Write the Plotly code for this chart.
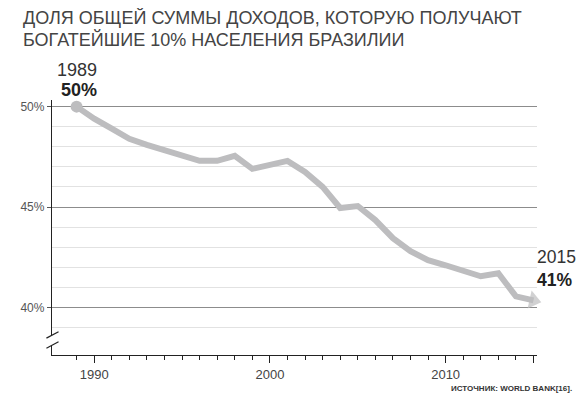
import plotly.graph_objects as go

# доля доходов, получаемая богатейшими 10% (Бразилия), по оценке с графика
years = list(range(1989, 2016))
share = [50.0, 49.4, 48.9, 48.4, 48.1, 47.85, 47.55, 47.3, 47.3, 47.55,
         46.9, 47.1, 47.3, 46.75, 46.0, 44.95, 45.05, 44.35, 43.45, 42.8,
         42.35, 42.1, 41.85, 41.55, 41.7, 40.55, 40.35]

y_ticks = [40, 45, 50]
y_labels = ['40%', '45%', '50%']
y_minor = [39, 41, 42, 43, 44, 46, 47, 48, 49]
x_ticks = [1990, 1995, 2000, 2005, 2010, 2015]
x_labels = ['1990', '', '2000', '', '2010', '']

title_lines = ['ДОЛЯ ОБЩЕЙ СУММЫ ДОХОДОВ, КОТОРУЮ ПОЛУЧАЮТ',
               'БОГАТЕЙШИЕ 10% НАСЕЛЕНИЯ БРАЗИЛИИ']
source = 'ИСТОЧНИК: WORLD BANK[16].'

line_col = '#bdbdbf'
font = 'Liberation Sans, Arial, sans-serif'

fig = go.Figure()

fig.add_trace(go.Scatter(x=years, y=share, mode='lines',
                         line=dict(color=line_col, width=6),
                         hoverinfo='skip', showlegend=False))

# точка в начале
fig.add_trace(go.Scatter(x=years[:1], y=share[:1], mode='markers',
                         marker=dict(color=line_col, size=12),
                         cliponaxis=False, showlegend=False))

# стрелка в конце
fig.add_trace(go.Scatter(x=years[-2:], y=share[-2:], mode='markers',
                         marker=dict(color=line_col, size=[0, 16], symbol='triangle-up',
                                     angleref='previous', line_width=0),
                         cliponaxis=False, showlegend=False))

# у страницы отступ 8px, поэтому фигура меньше окна (иначе появятся полосы прокрутки)
fig.update_layout(
    width=568, height=386,
    margin=dict(l=32, r=39, t=92, b=39),
    paper_bgcolor='white', plot_bgcolor='white',
    font=dict(family=font, color='#444'),
    xaxis=dict(range=[1987.6, 2015.2], showline=True, linecolor='#222', linewidth=1.3,
               tickvals=x_ticks, ticktext=x_labels, ticks='outside', ticklen=7,
               tickcolor='#222', tickwidth=1, showgrid=False, zeroline=False,
               tickfont=dict(size=13, color='#444'),
               minor=dict(tickvals=list(range(1989, 2015)), ticks='outside',
                          ticklen=4, tickcolor='#222', showgrid=False)),
    yaxis=dict(range=[37.63, 50.33], showline=True, linecolor='#222', linewidth=1.3,
               tickvals=y_ticks, ticktext=y_labels, ticks='outside', ticklen=4,
               tickcolor='#555', showgrid=True, gridcolor='#8c8c8c', gridwidth=1,
               zeroline=False, tickfont=dict(size=12, color='#555'),
               minor=dict(tickvals=y_minor, showgrid=True, gridcolor='#e2e2e2',
                          gridwidth=1, ticks='')),
)

# заголовок
for text, ty in zip(title_lines, [1.3216, 1.2353]):
    fig.add_annotation(x=-0.0644, y=ty, xref='paper', yref='paper', text=text,
                       showarrow=False, xanchor='left', yanchor='middle',
                       font=dict(size=18, color='#444', family=font))

# разрыв оси Y
fig.add_shape(type='rect', xref='paper', yref='y', x0=-0.008, x1=0.008,
              y0=38.12, y1=38.6, fillcolor='white', line_width=0, layer='above')
for y0 in (38.47, 37.97):
    fig.add_shape(type='line', xref='paper', yref='y', x0=-0.0115, x1=0.0135,
                  y0=y0, y1=y0 + 0.32, line=dict(color='#222', width=1.2), layer='above')

fig.add_annotation(x=years[0], y=share[0], xref='x', yref='y', text=str(years[0]),
                   showarrow=False, yanchor='middle', yshift=37, xshift=0,
                   font=dict(size=18, color='#333'))
fig.add_annotation(x=years[0], y=share[0], xref='x', yref='y', text='<b>50%</b>',
                   showarrow=False, yanchor='middle', yshift=17, xshift=2,
                   font=dict(size=18, color='#222'))
fig.add_annotation(x=years[-1], y=share[-1], xref='x', yref='y', text=str(years[-1]),
                   showarrow=False, xanchor='left', yanchor='middle', yshift=43, xshift=2,
                   font=dict(size=17.5, color='#333'))
fig.add_annotation(x=years[-1], y=share[-1], xref='x', yref='y', text='<b>41%</b>',
                   showarrow=False, xanchor='left', yanchor='middle', yshift=20, xshift=2,
                   font=dict(size=17.5, color='#222'))

fig.add_annotation(x=1.0765, y=-0.133, xref='paper', yref='paper', text='<b>' + source + '</b>',
                   showarrow=False, xanchor='right', yanchor='middle',
                   font=dict(size=8, color='#333', family='Liberation Sans Narrow, ' + font))

fig.write_html('out.html')
